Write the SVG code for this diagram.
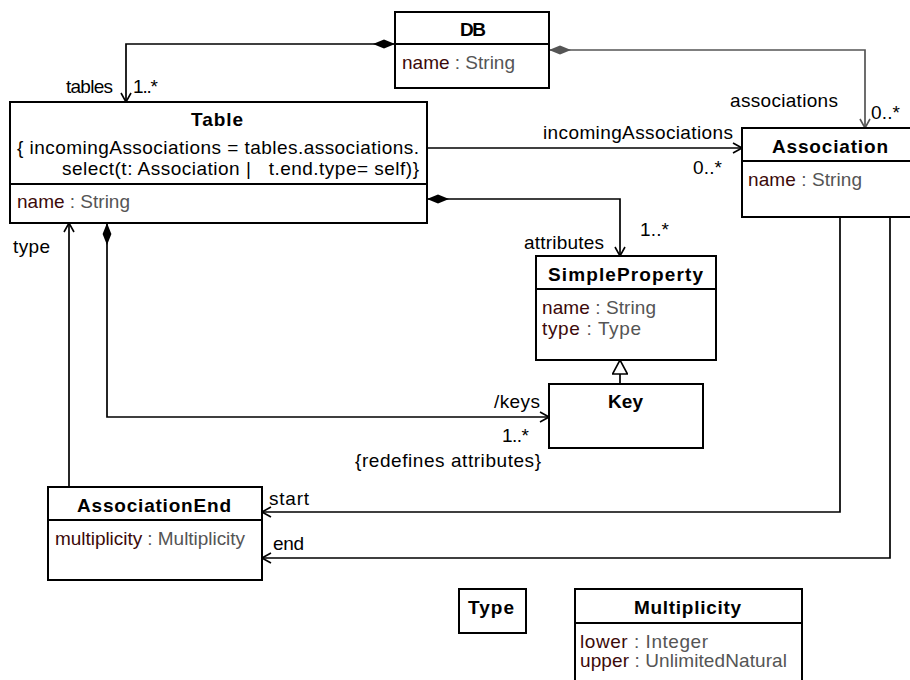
<svg xmlns="http://www.w3.org/2000/svg" width="910" height="680" viewBox="0 0 910 680">
  <style>
    text { font-family: "Liberation Sans", Arial, sans-serif; font-size: 19px; fill: #000; }
    .ttl { font-weight: bold; font-size: 19px; }
    .an { fill: #3c0a0a; }
    .at { fill: #555; }
    .box { fill: #fff; stroke: #000; stroke-width: 2; }
    .div { stroke: #000; stroke-width: 2; }
    .edge { fill: none; stroke: #000; stroke-width: 1.7; }
    .edge.gray { stroke: #555; }
  </style>
  <defs>
    <marker id="open" viewBox="0 0 10 12" refX="10" refY="6" markerWidth="10" markerHeight="12" markerUnits="userSpaceOnUse" orient="auto">
      <path d="M1,1 L10,6 L1,11" fill="none" stroke="#000" stroke-width="1.6"/>
    </marker>
    <marker id="openGray" viewBox="0 0 10 12" refX="10" refY="6" markerWidth="10" markerHeight="12" markerUnits="userSpaceOnUse" orient="auto">
      <path d="M1,1 L10,6 L1,11" fill="none" stroke="#555" stroke-width="1.6"/>
    </marker>
    <marker id="diamond" viewBox="0 0 22 10" refX="0" refY="5" markerWidth="22" markerHeight="10" markerUnits="userSpaceOnUse" orient="auto">
      <path d="M0,5 L11,0.6 L22,5 L11,9.4 Z" fill="#000"/>
    </marker>
    <marker id="diamondGray" viewBox="0 0 22 10" refX="0" refY="5" markerWidth="22" markerHeight="10" markerUnits="userSpaceOnUse" orient="auto">
      <path d="M0,5 L11,0.6 L22,5 L11,9.4 Z" fill="#555"/>
    </marker>
    <marker id="triangle" viewBox="0 0 16 16" refX="15" refY="8" markerWidth="16" markerHeight="16" markerUnits="userSpaceOnUse" orient="auto">
      <path d="M1,0.5 L15,8 L1,15.5 Z" fill="#fff" stroke="#000" stroke-width="1.6"/>
    </marker>
  </defs>

  <!-- connectors -->
  <g id="connectors">
    <path class="edge" d="M395,44 H126 V102" marker-start="url(#diamond)" marker-end="url(#open)"/>
    <path class="edge gray" d="M549,50 H865 V128" marker-start="url(#diamondGray)" marker-end="url(#openGray)"/>
    <path class="edge" d="M427,148 H742" marker-end="url(#open)"/>
    <path class="edge" d="M427,199 H620 V256" marker-start="url(#diamond)" marker-end="url(#open)"/>
    <path class="edge" d="M107,223 V417 H549" marker-start="url(#diamond)" marker-end="url(#open)"/>
    <path class="edge" d="M69,487 V223" marker-end="url(#open)"/>
    <path class="edge" d="M840,217 V512 H262" marker-end="url(#open)"/>
    <path class="edge" d="M890,217 V558 H262" marker-end="url(#open)"/>
    <path class="edge" d="M620,384 V360" marker-end="url(#triangle)"/>

    <text x="66" y="93" textLength="47">tables</text>
    <text x="133" y="93" textLength="25">1..*</text>
    <text x="730" y="107" textLength="108">associations</text>
    <text x="871" y="119" textLength="29">0..*</text>
    <text x="543" y="139" textLength="190">incomingAssociations</text>
    <text x="693" y="174" textLength="29">0..*</text>
    <text x="640" y="236" textLength="29">1..*</text>
    <text x="524" y="249" textLength="80">attributes</text>
    <text x="494" y="408" textLength="46">/keys</text>
    <text x="502" y="442" textLength="27">1..*</text>
    <text x="355" y="467" textLength="186">{redefines attributes}</text>
    <text x="13" y="253" textLength="37">type</text>
    <text x="269" y="505" textLength="40">start</text>
    <text x="273" y="550" textLength="31">end</text>
  </g>

  <g id="DB">
    <rect class="box" x="395" y="12" width="154" height="76"/>
    <line class="div" x1="395" y1="44" x2="549" y2="44"/>
    <text class="ttl" x="460" y="36" textLength="26">DB</text>
    <text x="402" y="69" textLength="113"><tspan class="an">name</tspan><tspan class="at"> : String</tspan></text>
  </g>

  <g id="Table">
    <rect class="box" x="10" y="102" width="417" height="121"/>
    <line class="div" x1="10" y1="184" x2="427" y2="184"/>
    <text class="ttl" x="191" y="126" textLength="52">Table</text>
    <text x="17" y="154" textLength="402">{ incomingAssociations = tables.associations.</text>
    <text x="62" y="175" textLength="357" xml:space="preserve">select(t: Association |   t.end.type= self)}</text>
    <text x="17" y="208" textLength="113"><tspan class="an">name</tspan><tspan class="at"> : String</tspan></text>
  </g>

  <g id="Association">
    <rect class="box" x="742" y="128" width="180" height="89"/>
    <line class="div" x1="742" y1="161" x2="922" y2="161"/>
    <text class="ttl" x="772" y="153" textLength="116">Association</text>
    <text x="748" y="186" textLength="114"><tspan class="an">name</tspan><tspan class="at"> : String</tspan></text>
  </g>

  <g id="SimpleProperty">
    <rect class="box" x="536" y="256" width="180" height="104"/>
    <line class="div" x1="536" y1="289" x2="716" y2="289"/>
    <text class="ttl" x="548" y="281" textLength="155">SimpleProperty</text>
    <text x="542" y="314" textLength="114"><tspan class="an">name</tspan><tspan class="at"> : String</tspan></text>
    <text x="542" y="335" textLength="99"><tspan class="an">type</tspan><tspan class="at"> : Type</tspan></text>
  </g>

  <g id="Key">
    <rect class="box" x="549" y="384" width="154" height="64"/>
    <text class="ttl" x="608" y="408" textLength="35">Key</text>
  </g>

  <g id="AssociationEnd">
    <rect class="box" x="48" y="487" width="214" height="93"/>
    <line class="div" x1="48" y1="520" x2="262" y2="520"/>
    <text class="ttl" x="77" y="512" textLength="154">AssociationEnd</text>
    <text x="55" y="545" textLength="190"><tspan class="an">multiplicity</tspan><tspan class="at"> : Multiplicity</tspan></text>
  </g>

  <g id="Type">
    <rect class="box" x="459" y="589" width="67" height="44"/>
    <text class="ttl" x="468" y="614" textLength="46">Type</text>
  </g>

  <g id="Multiplicity">
    <rect class="box" x="575" y="589" width="227" height="100"/>
    <line class="div" x1="575" y1="623" x2="802" y2="623"/>
    <text class="ttl" x="634" y="614" textLength="107">Multiplicity</text>
    <text x="580" y="648" textLength="128"><tspan class="an">lower</tspan><tspan class="at"> : Integer</tspan></text>
    <text x="580" y="667" textLength="207"><tspan class="an">upper</tspan><tspan class="at"> : UnlimitedNatural</tspan></text>
  </g>
</svg>
